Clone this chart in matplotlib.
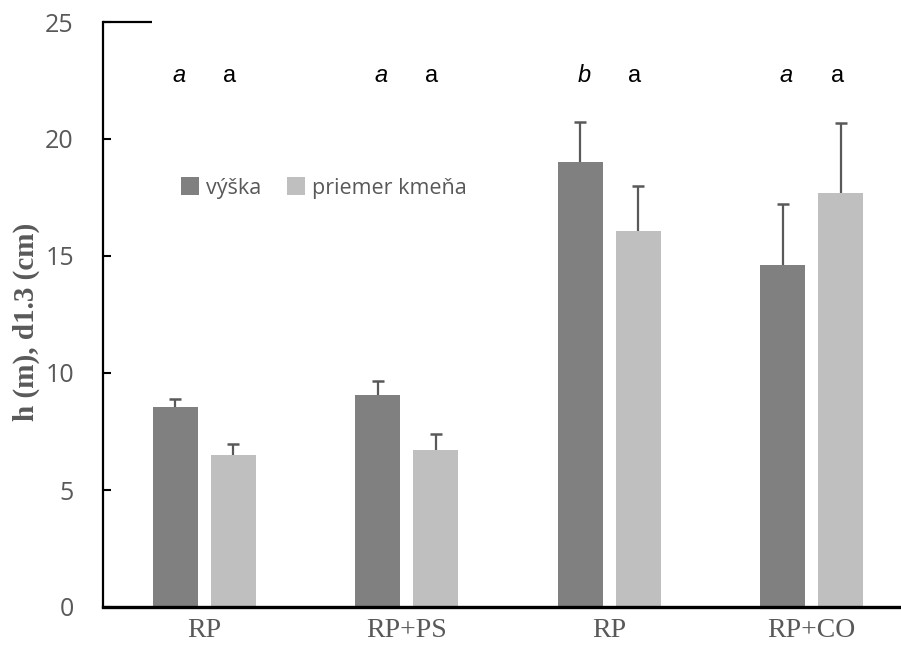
import matplotlib
matplotlib.use("Agg")
import matplotlib.pyplot as plt
import numpy as np

categories = ['RP', 'RP+PS', 'RP', 'RP+CO']
vyska = [8.55, 9.08, 19.02, 14.60]
vyska_err = [0.33, 0.57, 1.71, 2.62]
priemer = [6.49, 6.70, 16.06, 17.68]
priemer_err = [0.49, 0.70, 1.92, 3.02]
letters_vyska = ['a', 'a', 'b', 'a']
letters_priemer = ['a', 'a', 'a', 'a']
yticks = [0, 5, 10, 15, 20, 25]

W, H = 901, 653
fig = plt.figure(figsize=(W / 100, H / 100), dpi=100)
ax = fig.add_axes([103 / W, 46 / H, 810 / W, 585 / H])

x = np.arange(len(categories))
off = 0.143
bw = 0.222
dark = '#808080'
light = '#bfbfbf'
ecol = '#595959'

ax.bar(x - off, vyska, width=bw, color=dark, label='výška', zorder=2)
ax.bar(x + off, priemer, width=bw, color=light, label='priemer kmeňa', zorder=2)
for xs, vals, errs in [(x - off, vyska, vyska_err), (x + off, priemer, priemer_err)]:
    eb = ax.errorbar(xs, vals, yerr=[np.zeros(len(x)), errs], fmt='none',
                     ecolor=ecol, elinewidth=1.6, capsize=4.3, capthick=1.8, zorder=1)
    caps = eb[1]
    if len(caps) == 2:
        caps[0].set_visible(False)

for i in range(len(x)):
    ax.text(x[i] - 0.125, 22.7, letters_vyska[i], ha='center', va='center',
            fontsize=17, style='italic', color='black',
            family=['Liberation Sans Narrow', 'Liberation Sans'])
    ax.text(x[i] + 0.125, 22.7, letters_priemer[i], ha='center', va='center',
            fontsize=17, color='black',
            family=['Liberation Sans Narrow', 'Liberation Sans'])

ax.set_xlim(-0.5, len(categories) - 0.5)
ax.set_ylim(0, 25)
ax.set_yticks(yticks)
ax.set_xticks(x)
ax.set_xticklabels(categories, family='Liberation Serif', fontsize=20, color='#595959')
for lab in ax.get_yticklabels():
    lab.set_family('Open Sans')
    lab.set_fontsize(18)
    lab.set_color('#595959')

ax.tick_params(axis='x', length=0, pad=8)
ax.tick_params(axis='y', direction='in', length=6, width=1.5, pad=21, colors='black', labelcolor='#595959')

for s in ['top', 'right']:
    ax.spines[s].set_visible(False)
ax.spines['left'].set_linewidth(1.6)
ax.spines['bottom'].set_linewidth(2.4)
ax.spines['left'].set_color('black')
ax.spines['bottom'].set_color('black')

ax.plot([0, 0.06], [25, 25], transform=ax.get_yaxis_transform(), color='black',
        lw=1.6, clip_on=False, solid_capstyle='butt')

ax.set_ylabel('h (m), d1.3 (cm)', family='Liberation Serif', fontweight='bold',
              fontsize=21, color='#595959')
ax.yaxis.set_label_coords(-0.078, 0.487)

leg = ax.legend(loc='center left', bbox_to_anchor=((181 - 103) / 810, (607 - 188) / 585),
                ncol=2, frameon=False, borderpad=0, borderaxespad=0,
                handlelength=0.85, handleheight=0.85, handletextpad=0.3,
                columnspacing=1.2, prop={'family': 'Open Sans', 'size': 15.5})
for t in leg.get_texts():
    t.set_color('#595959')

fig.savefig('out.png', dpi=100)
